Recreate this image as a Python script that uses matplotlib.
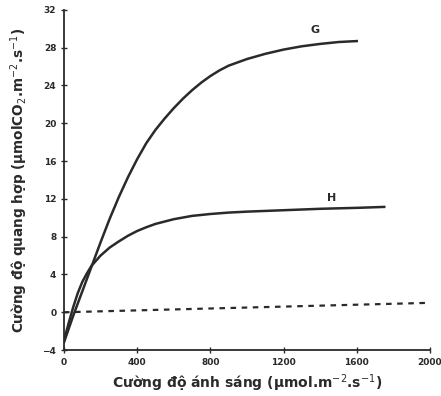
import matplotlib
matplotlib.use("Agg")
import matplotlib.pyplot as plt

# light intensity (umol m-2 s-1) vs photosynthesis rate, curves G and H
g_x = [0, 50, 100, 150, 200, 250, 300, 350, 400, 450, 500, 550, 600, 650,
       700, 750, 800, 850, 900, 1000, 1100, 1200, 1300, 1400, 1500, 1600]
g_y = [-3.2, -0.4, 2.2, 4.8, 7.4, 9.9, 12.2, 14.3, 16.2, 17.9, 19.3, 20.5,
       21.6, 22.6, 23.5, 24.3, 25.0, 25.6, 26.1, 26.8, 27.35, 27.8, 28.15,
       28.4, 28.6, 28.7]
h_x = [0, 25, 50, 75, 100, 125, 150, 200, 250, 300, 350, 400, 450, 500,
       600, 700, 800, 900, 1000, 1200, 1400, 1600, 1750]
h_y = [-3.0, -1.2, 0.5, 2.0, 3.2, 4.1, 4.9, 6.0, 6.85, 7.5, 8.1, 8.6, 9.0,
       9.35, 9.85, 10.2, 10.4, 10.55, 10.65, 10.8, 10.95, 11.05, 11.15]
base_x = [0, 2000]
base_y = [0.0, 1.0]

x_ticks = [0, 400, 800, 1200, 1600, 2000]
y_ticks = [-4, 0, 4, 8, 12, 16, 20, 24, 28, 32]

fig = plt.figure(figsize=(4.41, 3.96), dpi=100)
ax = fig.add_axes([0.145, 0.116, 0.83, 0.859])

ink = "#2a2a2a"
ax.plot(g_x, g_y, color=ink, lw=1.8, solid_joinstyle="round")
ax.plot(h_x, h_y, color=ink, lw=1.8, solid_joinstyle="round")
ax.plot(base_x, base_y, color=ink, lw=1.6, ls=(0, (2.5, 2.5)))

ax.text(1370, 29.3, "G", fontsize=8, fontweight="bold", color=ink, ha="center", va="bottom")
ax.text(1460, 11.6, "H", fontsize=8, fontweight="bold", color=ink, ha="center", va="bottom")

ax.set_xlim(0, 2000)
ax.set_ylim(-4, 32)
ax.set_xticks(x_ticks)
ax.set_yticks(y_ticks)
ax.tick_params(direction="inout", length=4, width=1, labelsize=6.5, colors=ink)
for lab in ax.get_xticklabels() + ax.get_yticklabels():
    lab.set_fontweight("bold")

for s in ["top", "right"]:
    ax.spines[s].set_visible(False)
for s in ["left", "bottom"]:
    ax.spines[s].set_color(ink)
    ax.spines[s].set_linewidth(1.3)

ax.set_xlabel("Cường độ ánh sáng (µmol.m$^{-2}$.s$^{-1}$)", fontsize=10,
              fontweight="bold", color=ink, labelpad=4)
ax.set_ylabel("Cường độ quang hợp (µmolCO$_2$.m$^{-2}$.s$^{-1}$)", fontsize=9.8,
              fontweight="bold", color=ink, labelpad=9)

fig.savefig("out.png", dpi=100)
